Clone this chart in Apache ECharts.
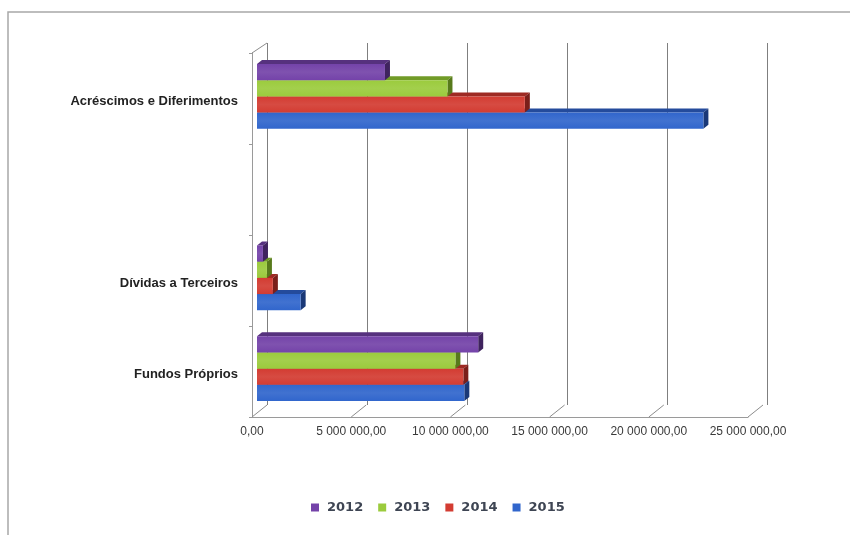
<!DOCTYPE html>
<html>
<head>
<meta charset="utf-8">
<title>Balanço 2012–2015</title>
<script src="https://cdn.jsdelivr.net/npm/echarts@6/dist/echarts.min.js"></script>
<style>
  html, body { margin: 0; padding: 0; background: #ffffff; }
  #chart { width: 850px; height: 535px; }
</style>
</head>
<body>
<div id="chart"></div>
<script>
// Categories (top to bottom); the blank entry keeps the empty slot on the axis
const categories = ['Acréscimos e Diferimentos', '', 'Dívidas a Terceiros', 'Fundos Próprios'];
const years = ['2012', '2013', '2014', '2015'];

// Values per year, in the same order as categories
const v2012 = [6450000, null, 300000, 11150000];
const v2013 = [9600000, null, 500000, 10000000];
const v2014 = [13500000, null, 800000, 10400000];
const v2015 = [22500000, null, 2200000, 10450000];
const seriesValues = [v2012, v2013, v2014, v2015];

// Value axis range and tick step
const axisMin = 0;
const axisMax = 25000000;
const axisStep = 5000000;
const tickValues = [0, 5000000, 10000000, 15000000, 20000000, 25000000];

// Face colours of each box: front, top, side
const palette = [
  ['#7443a9', '#56317e', '#3f235e'],
  ['#9bcb3d', '#719b27', '#577a1b'],
  ['#d33c32', '#9e2a23', '#7a1f1a'],
  ['#3166cc', '#244b9c', '#1a3877']
];

const DEPTH_X = 5, DEPTH_Y = 4;       // extrusion of every bar
const FLOOR_X = 15, FLOOR_Y = 12;     // depth of the floor / side wall
const GROUP_RATIO = 0.715;            // share of a category band taken by the bars

function formatMoney(v) {
  const parts = v.toFixed(2).split('.');
  const intPart = parts[0].replace(/\B(?=(\d{3})+(?!\d))/g, ' ');
  return intPart + ',' + parts[1];
}

// One custom series per year: each bar is a small extruded box
function makeBarSeries(k) {
  const data = [];
  seriesValues[k].forEach(function (v, i) {
    if (v !== null) data.push([v, i]);
  });
  const cols = palette[k];
  return {
    name: years[k],
    type: 'custom',
    xAxisIndex: 2,
    yAxisIndex: 2,
    z: 10 - k,
    itemStyle: { color: cols[0] },
    encode: { x: 0, y: 1 },
    data: data,
    renderItem: function (params, api) {
      const val = api.value(0);
      const cat = api.value(1);
      const start = api.coord([0, cat]);
      const end = api.coord([val, cat]);
      const band = api.size([0, 1])[1];
      const groupH = band * GROUP_RATIO;
      const h = groupH / 4;
      const top = start[1] - groupH / 2 + k * h;
      const x0 = start[0], x1 = end[0];
      return {
        type: 'group',
        children: [
          {
            type: 'polygon',
            shape: { points: [[x0, top], [x0 + DEPTH_X, top - DEPTH_Y], [x1 + DEPTH_X, top - DEPTH_Y], [x1, top]] },
            style: { fill: cols[1] }
          },
          {
            type: 'polygon',
            shape: { points: [[x1, top], [x1 + DEPTH_X, top - DEPTH_Y], [x1 + DEPTH_X, top + h - DEPTH_Y], [x1, top + h]] },
            style: { fill: cols[2] }
          },
          {
            type: 'rect',
            shape: { x: x0, y: top, width: x1 - x0, height: h },
            style: {
              fill: new echarts.graphic.LinearGradient(0, 0, 0, 1, [
                { offset: 0, color: cols[0] },
                { offset: 0.5, color: echarts.color.lift(cols[0], 0.08) },
                { offset: 1, color: cols[0] }
              ])
            }
          }
        ]
      };
    }
  };
}

// Floor ticks running from the front edge back to the wall, plus the top edge of the side wall
const floorSeries = {
  type: 'custom',
  xAxisIndex: 1,
  yAxisIndex: 1,
  silent: true,
  z: 1,
  data: tickValues.map(function (v) { return [v]; }),
  encode: { x: 0 },
  renderItem: function (params, api) {
    const cs = params.coordSys;
    const x = api.coord([api.value(0), 0])[0];
    const bottom = cs.y + cs.height;
    const children = [{
      type: 'line',
      shape: { x1: x, y1: bottom, x2: x + FLOOR_X, y2: bottom - FLOOR_Y },
      style: { stroke: '#8c8c8c', lineWidth: 1 }
    }];
    if (params.dataIndex === 0) {
      children.push({
        type: 'line',
        shape: { x1: cs.x, y1: cs.y, x2: cs.x + FLOOR_X, y2: cs.y - 10 },
        style: { stroke: '#8c8c8c', lineWidth: 1 }
      });
    }
    return { type: 'group', children: children };
  }
};

const chart = echarts.init(document.getElementById('chart'), null, { renderer: 'canvas' });

chart.setOption({
  animation: false,
  backgroundColor: '#ffffff',
  graphic: [{
    type: 'rect',
    shape: { x: 8, y: 12, width: 900, height: 600 },
    style: { fill: 'none', stroke: '#a8a8a8', lineWidth: 1.5 },
    silent: true,
    z: -1
  }],
  grid: [
    { left: 267, right: 83, top: 43, bottom: 130 },   // back wall
    { left: 252, right: 102, top: 53, bottom: 118 },  // front edge, floor and labels
    { left: 257, right: 97, top: 51, bottom: 121 }    // bars
  ],
  xAxis: [
    {
      gridIndex: 0, type: 'value', min: axisMin, max: axisMax, interval: axisStep,
      axisLine: { show: false }, axisTick: { show: false }, axisLabel: { show: false },
      splitLine: { show: true, lineStyle: { color: '#7f7f7f', width: 1 } }
    },
    {
      gridIndex: 1, type: 'value', min: axisMin, max: axisMax, interval: axisStep,
      axisLine: { show: true, onZero: false, lineStyle: { color: '#9a9a9a', width: 1 } },
      axisTick: { show: false },
      splitLine: { show: false },
      axisLabel: {
        show: true, margin: 9, formatter: formatMoney,
        fontFamily: 'Liberation Sans, Arial, sans-serif', fontSize: 12, color: '#3a3a3a'
      }
    },
    {
      gridIndex: 2, type: 'value', min: axisMin, max: axisMax, interval: axisStep, show: false
    }
  ],
  yAxis: [
    { gridIndex: 0, type: 'category', inverse: true, data: categories, show: false },
    {
      gridIndex: 1, type: 'category', inverse: true, data: categories,
      axisLine: { show: true, lineStyle: { color: '#9a9a9a', width: 1 } },
      axisTick: { show: true, inside: false, length: 3, lineStyle: { color: '#9a9a9a' } },
      splitLine: { show: false },
      axisLabel: {
        margin: 14, fontFamily: 'Liberation Sans, Arial, sans-serif', fontSize: 13,
        fontWeight: 'bold', color: '#222222', verticalAlign: 'top', lineHeight: 5
      }
    },
    { gridIndex: 2, type: 'category', inverse: true, data: categories, show: false }
  ],
  legend: {
    data: years,
    left: 306,
    top: 496,
    icon: 'rect',
    itemWidth: 8,
    itemHeight: 8,
    itemGap: 15,
    selectedMode: false,
    textStyle: {
      fontFamily: 'DejaVu Sans, Verdana, sans-serif', fontSize: 13, fontWeight: 'bold',
      color: '#3e4553', padding: [0, 0, 0, 3]
    }
  },
  series: [floorSeries].concat(years.map(function (y, k) { return makeBarSeries(k); }))
});
</script>
</body>
</html>
